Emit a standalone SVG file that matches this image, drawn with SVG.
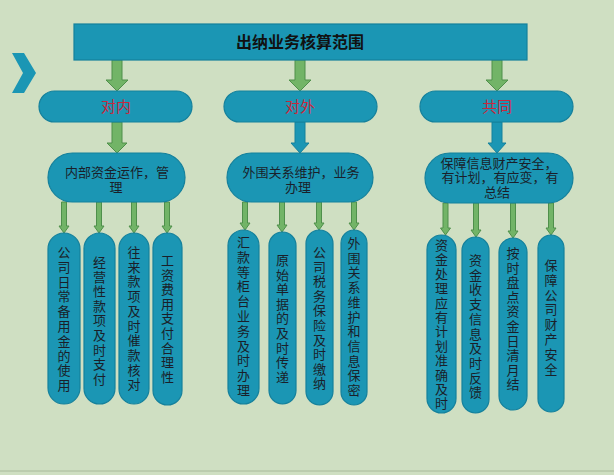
<svg xmlns="http://www.w3.org/2000/svg" width="614" height="475" viewBox="0 0 614 475" lang="zh-CN">
<style>
.bg{fill:#cfdfc2}
.node{fill:#1b96b4;stroke:#15819c;stroke-width:1.2}
.garrow{fill:#72b467;stroke:#4f8f4b;stroke-width:1}
.barrow{fill:#1b96b4;stroke:#15819c;stroke-width:1}
.title{font-family:"Noto Sans CJK SC","Liberation Sans",sans-serif;font-size:16px;font-weight:bold;fill:#111;text-anchor:middle}
.cat{font-family:"Noto Sans CJK SC","Liberation Sans",sans-serif;font-size:15px;fill:#c8283c;text-anchor:middle}
.sub{font-family:"Liberation Sans","Noto Sans CJK SC",sans-serif;font-size:13px;fill:#1a1f2a;text-anchor:middle}
.vt{font-family:"Liberation Sans","Noto Sans CJK SC",sans-serif;font-size:13px;fill:#1a1f2a;text-anchor:middle}
</style>
<rect class="bg" x="0" y="0" width="614" height="475"/>
<line x1="0" y1="471" x2="614" y2="471" stroke="#a9ba9c" stroke-width="1"/>
<polygon points="12,53 24,53 36,73 24,93 12,93 23,73" fill="#1b96b4"/>

<g id="connectors">
  <polygon class="garrow" points="112,60 122,60 122,80 128,80 117,91 106,80 112,80"/>
  <polygon class="garrow" points="295,60 305,60 305,80 311,80 300,91 289,80 295,80"/>
  <polygon class="garrow" points="492,60 502,60 502,80 508,80 497,91 486,80 492,80"/>
  <polygon class="garrow" points="112,122 122,122 122,143 127,143 117,153 107,143 112,143"/>
  <polygon class="barrow" points="295,122 305,122 305,143 309,143 300,153 291,143 295,143"/>
  <polygon class="barrow" points="492,122 502,122 502,143 506,143 497,153 488,143 492,143"/>
  <g class="garrow">
    <polygon points="61.5,202 66.5,202 66.5,226 69,226 64,233 59,226 61.5,226"/>
    <polygon points="96.5,202 101.5,202 101.5,226 104,226 99,233 94,226 96.5,226"/>
    <polygon points="131.5,202 136.5,202 136.5,226 139,226 134,233 129,226 131.5,226"/>
    <polygon points="164.5,202 169.5,202 169.5,226 172,226 167,233 162,226 164.5,226"/>
    <polygon points="242.5,202 247.5,202 247.5,223 250,223 245,230 240,223 242.5,223"/>
    <polygon points="279.5,202 284.5,202 284.5,225 287,225 282,232 277,225 279.5,225"/>
    <polygon points="316.5,202 321.5,202 321.5,223 324,223 319,230 314,223 316.5,223"/>
    <polygon points="351.5,202 356.5,202 356.5,223 359,223 354,230 349,223 351.5,223"/>
    <polygon points="443,203 448,203 448,228 450.5,228 445.5,235 440.5,228 443,228"/>
    <polygon points="473.5,203 478.5,203 478.5,230 481,230 476,237 471,230 473.5,230"/>
    <polygon points="510.5,203 515.5,203 515.5,231 518,231 513,238 508,231 510.5,231"/>
    <polygon points="548.5,203 553.5,203 553.5,228 556,228 551,235 546,228 548.5,228"/>
  </g>
</g>

<g id="root">
  <rect class="node" x="74" y="24" width="453" height="36"/>
  <text class="title" x="300" y="48">出纳业务核算范围</text>
</g>

<g id="duinei">
  <rect class="node" x="39" y="91" width="153" height="31" rx="15.5"/>
  <text class="cat" x="116" y="112">对内</text>
</g>
<g id="duiwai">
  <rect class="node" x="224" y="91" width="153" height="31" rx="15.5"/>
  <text class="cat" x="300" y="112">对外</text>
</g>
<g id="gongtong">
  <rect class="node" x="420" y="91" width="153" height="31" rx="15.5"/>
  <text class="cat" x="497" y="112">共同</text>
</g>

<g id="n-inner">
  <rect class="node" x="48" y="153" width="137" height="49" rx="24.5"/>
  <text class="sub" x="117" y="177">内部资金运作，管</text>
  <text class="sub" x="116" y="191.7">理</text>
</g>
<g id="n-outer">
  <rect class="node" x="227" y="153" width="146" height="49" rx="24.5"/>
  <text class="sub" x="301" y="177">外围关系维护，业务</text>
  <text class="sub" x="298" y="191.7">办理</text>
</g>
<g id="n-common">
  <rect class="node" x="425" y="153" width="148" height="50" rx="25"/>
  <text class="sub" x="499" y="167.5">保障信息财产安全，</text>
  <text class="sub" x="500" y="182.2">有计划，有应变，有</text>
  <text class="sub" x="497" y="196.9">总结</text>
</g>

<g id="a1">
  <rect class="node" x="48" y="233" width="32" height="171" rx="16"/>
  <text class="vt" y="257"><tspan x="64">公</tspan><tspan x="64" dy="14.8">司</tspan><tspan x="64" dy="14.8">日</tspan><tspan x="64" dy="14.8">常</tspan><tspan x="64" dy="14.8">备</tspan><tspan x="64" dy="14.8">用</tspan><tspan x="64" dy="14.8">金</tspan><tspan x="64" dy="14.8">的</tspan><tspan x="64" dy="14.8">使</tspan><tspan x="64" dy="14.8">用</tspan></text>
</g>
<g id="a2">
  <rect class="node" x="84" y="233" width="31" height="171" rx="15.5"/>
  <text class="vt" y="267"><tspan x="99.5">经</tspan><tspan x="99.5" dy="14.6">营</tspan><tspan x="99.5" dy="14.6">性</tspan><tspan x="99.5" dy="14.6">款</tspan><tspan x="99.5" dy="14.6">项</tspan><tspan x="99.5" dy="14.6">及</tspan><tspan x="99.5" dy="14.6">时</tspan><tspan x="99.5" dy="14.6">支</tspan><tspan x="99.5" dy="14.6">付</tspan></text>
</g>
<g id="a3">
  <rect class="node" x="119" y="233" width="30" height="171" rx="15"/>
  <text class="vt" y="257"><tspan x="134">往</tspan><tspan x="134" dy="14.7">来</tspan><tspan x="134" dy="14.7">款</tspan><tspan x="134" dy="14.7">项</tspan><tspan x="134" dy="14.7">及</tspan><tspan x="134" dy="14.7">时</tspan><tspan x="134" dy="14.7">催</tspan><tspan x="134" dy="14.7">款</tspan><tspan x="134" dy="14.7">核</tspan><tspan x="134" dy="14.7">对</tspan></text>
</g>
<g id="a4">
  <rect class="node" x="153" y="233" width="29" height="172" rx="14.5"/>
  <text class="vt" y="265"><tspan x="167.5">工</tspan><tspan x="167.5" dy="14.6">资</tspan><tspan x="167.5" dy="14.6">费</tspan><tspan x="167.5" dy="14.6">用</tspan><tspan x="167.5" dy="14.6">支</tspan><tspan x="167.5" dy="14.6">付</tspan><tspan x="167.5" dy="14.6">合</tspan><tspan x="167.5" dy="14.6">理</tspan><tspan x="167.5" dy="14.6">性</tspan></text>
</g>

<g id="b1">
  <rect class="node" x="228" y="230" width="31" height="174" rx="15.5"/>
  <text class="vt" y="247"><tspan x="243.5">汇</tspan><tspan x="243.5" dy="14.8">款</tspan><tspan x="243.5" dy="14.8">等</tspan><tspan x="243.5" dy="14.8">柜</tspan><tspan x="243.5" dy="14.8">台</tspan><tspan x="243.5" dy="14.8">业</tspan><tspan x="243.5" dy="14.8">务</tspan><tspan x="243.5" dy="14.8">及</tspan><tspan x="243.5" dy="14.8">时</tspan><tspan x="243.5" dy="14.8">办</tspan><tspan x="243.5" dy="14.8">理</tspan></text>
</g>
<g id="b2">
  <rect class="node" x="269" y="232" width="27" height="172" rx="13.5"/>
  <text class="vt" y="265"><tspan x="282.5">原</tspan><tspan x="282.5" dy="14.6">始</tspan><tspan x="282.5" dy="14.6">单</tspan><tspan x="282.5" dy="14.6">据</tspan><tspan x="282.5" dy="14.6">的</tspan><tspan x="282.5" dy="14.6">及</tspan><tspan x="282.5" dy="14.6">时</tspan><tspan x="282.5" dy="14.6">传</tspan><tspan x="282.5" dy="14.6">递</tspan></text>
</g>
<g id="b3">
  <rect class="node" x="306" y="230" width="27" height="175" rx="13.5"/>
  <text class="vt" y="257"><tspan x="319.5">公</tspan><tspan x="319.5" dy="14.6">司</tspan><tspan x="319.5" dy="14.6">税</tspan><tspan x="319.5" dy="14.6">务</tspan><tspan x="319.5" dy="14.6">保</tspan><tspan x="319.5" dy="14.6">险</tspan><tspan x="319.5" dy="14.6">及</tspan><tspan x="319.5" dy="14.6">时</tspan><tspan x="319.5" dy="14.6">缴</tspan><tspan x="319.5" dy="14.6">纳</tspan></text>
</g>
<g id="b4">
  <rect class="node" x="341" y="230" width="26" height="175" rx="13"/>
  <text class="vt" y="248"><tspan x="354">外</tspan><tspan x="354" dy="14.7">围</tspan><tspan x="354" dy="14.7">关</tspan><tspan x="354" dy="14.7">系</tspan><tspan x="354" dy="14.7">维</tspan><tspan x="354" dy="14.7">护</tspan><tspan x="354" dy="14.7">和</tspan><tspan x="354" dy="14.7">信</tspan><tspan x="354" dy="14.7">息</tspan><tspan x="354" dy="14.7">保</tspan><tspan x="354" dy="14.7">密</tspan></text>
</g>

<g id="c1">
  <rect class="node" x="427" y="235" width="29" height="178" rx="14.5"/>
  <text class="vt" y="250" font-size="12.8"><tspan x="441.5">资</tspan><tspan x="441.5" dy="14.4">金</tspan><tspan x="441.5" dy="14.4">处</tspan><tspan x="441.5" dy="14.4">理</tspan><tspan x="441.5" dy="14.4">应</tspan><tspan x="441.5" dy="14.4">有</tspan><tspan x="441.5" dy="14.4">计</tspan><tspan x="441.5" dy="14.4">划</tspan><tspan x="441.5" dy="14.4">准</tspan><tspan x="441.5" dy="14.4">确</tspan><tspan x="441.5" dy="14.4">及</tspan><tspan x="441.5" dy="14.4">时</tspan></text>
</g>
<g id="c2">
  <rect class="node" x="462" y="237" width="27" height="176" rx="13.5"/>
  <text class="vt" y="265"><tspan x="475.5">资</tspan><tspan x="475.5" dy="14.7">金</tspan><tspan x="475.5" dy="14.7">收</tspan><tspan x="475.5" dy="14.7">支</tspan><tspan x="475.5" dy="14.7">信</tspan><tspan x="475.5" dy="14.7">息</tspan><tspan x="475.5" dy="14.7">及</tspan><tspan x="475.5" dy="14.7">时</tspan><tspan x="475.5" dy="14.7">反</tspan><tspan x="475.5" dy="14.7">馈</tspan></text>
</g>
<g id="c3">
  <rect class="node" x="499" y="238" width="28" height="172" rx="14"/>
  <text class="vt" y="258"><tspan x="513">按</tspan><tspan x="513" dy="14.6">时</tspan><tspan x="513" dy="14.6">盘</tspan><tspan x="513" dy="14.6">点</tspan><tspan x="513" dy="14.6">资</tspan><tspan x="513" dy="14.6">金</tspan><tspan x="513" dy="14.6">日</tspan><tspan x="513" dy="14.6">清</tspan><tspan x="513" dy="14.6">月</tspan><tspan x="513" dy="14.6">结</tspan></text>
</g>
<g id="c4">
  <rect class="node" x="538" y="235" width="26" height="177" rx="13"/>
  <text class="vt" y="270"><tspan x="551">保</tspan><tspan x="551" dy="14.8">障</tspan><tspan x="551" dy="14.8">公</tspan><tspan x="551" dy="14.8">司</tspan><tspan x="551" dy="14.8">财</tspan><tspan x="551" dy="14.8">产</tspan><tspan x="551" dy="14.8">安</tspan><tspan x="551" dy="14.8">全</tspan></text>
</g>
</svg>
